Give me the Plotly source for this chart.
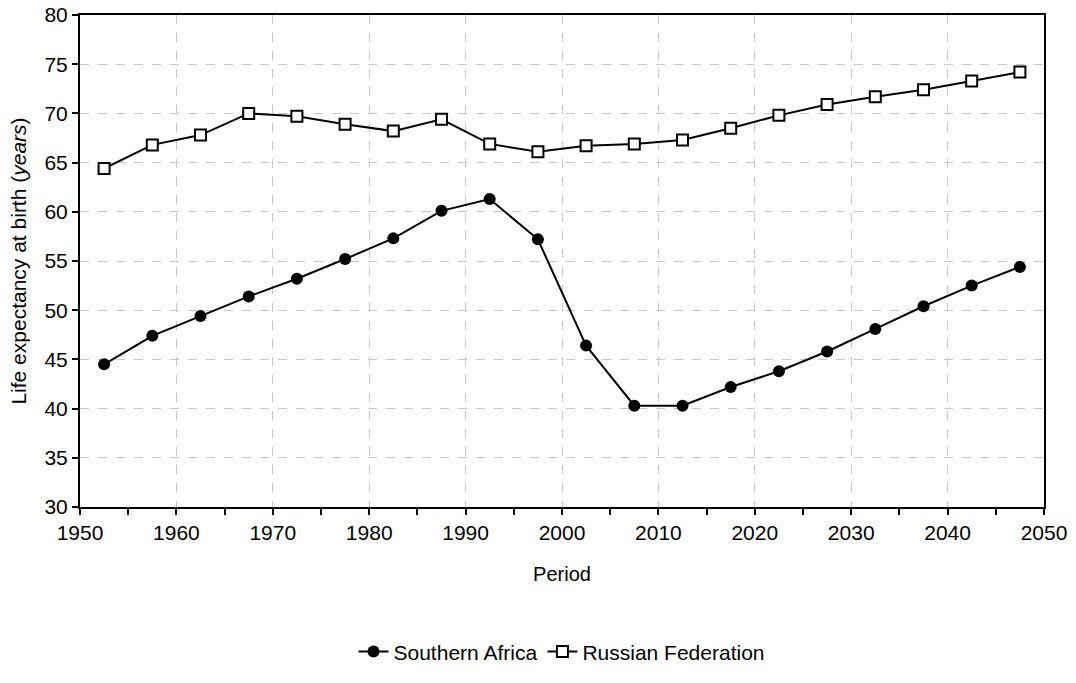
import plotly.graph_objects as go

periods = [1952.5 + 5 * i for i in range(20)]
southern_africa = [44.5, 47.4, 49.4, 51.4, 53.2, 55.2, 57.3, 60.1, 61.3, 57.2,
                   46.4, 40.3, 40.3, 42.2, 43.8, 45.8, 48.1, 50.4, 52.5, 54.4]
russian_federation = [64.4, 66.8, 67.8, 70.0, 69.7, 68.9, 68.2, 69.4, 66.9, 66.1,
                      66.7, 66.9, 67.3, 68.5, 69.8, 70.9, 71.7, 72.4, 73.3, 74.2]

fig = go.Figure()
fig.add_trace(go.Scatter(
    x=periods, y=southern_africa, name="Southern Africa", mode="lines+markers",
    line=dict(color="black", width=2),
    marker=dict(symbol="circle", size=12, color="black"),
))
fig.add_trace(go.Scatter(
    x=periods, y=russian_federation, name="Russian Federation", mode="lines+markers",
    line=dict(color="black", width=2),
    marker=dict(symbol="square", size=11, color="white", line=dict(color="black", width=2)),
))

fig.update_layout(
    width=1076, height=683,
    margin=dict(l=80, r=32, t=15, b=175),
    plot_bgcolor="white", paper_bgcolor="white",
    font=dict(family="Liberation Sans, Arial, sans-serif", size=20, color="black"),
    showlegend=True,
    legend=dict(orientation="h", x=0.5, xanchor="center", y=-0.292, yanchor="middle",
                font=dict(size=21)),
    xaxis=dict(
        range=[1950, 2050], dtick=10, tick0=1950, automargin=False,
        tickfont=dict(size=21), ticklabeloverflow="allow",
        ticks="outside", ticklen=6, tickwidth=1.5, tickcolor="black",
        minor=dict(dtick=5, ticks="outside", ticklen=6, tickcolor="black", showgrid=False),
        showline=True, linecolor="black", linewidth=2, mirror=True,
        showgrid=True, gridcolor="#c8c8c8", griddash="dash", gridwidth=1,
        title=dict(text="Period", standoff=24, font=dict(size=20)),
        zeroline=False,
    ),
    yaxis=dict(
        range=[30, 80], dtick=5, automargin=False,
        tickfont=dict(size=21), ticklabeloverflow="allow",
        ticks="outside", ticklen=6, tickwidth=1.5, tickcolor="black",
        showline=True, linecolor="black", linewidth=2, mirror=True,
        showgrid=True, gridcolor="#c8c8c8", griddash="dash", gridwidth=1,
        title=dict(text="Life expectancy at birth (<i>years</i>)", standoff=12,
                   font=dict(size=21)),
        zeroline=False,
    ),
)

# drop the page's default body margin so the figure sits at the window origin
fig.write_html("out.html", config={"displayModeBar": False},
               post_script="document.body.style.margin = '0';")
